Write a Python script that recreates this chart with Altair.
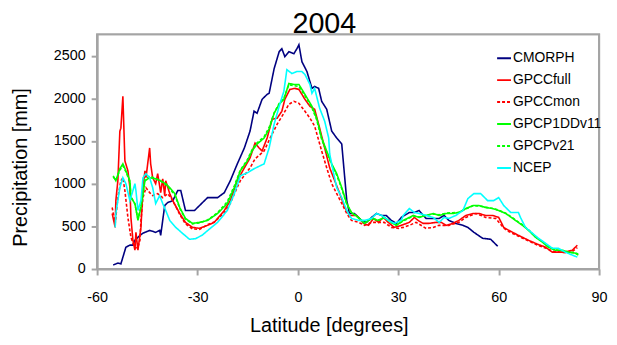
import altair as alt
import pandas as pd

series_names = ["CMORPH", "GPCCfull", "GPCCmon", "GPCP1DDv11", "GPCPv21", "NCEP"]
series_colors = ["#000080", "#FF0000", "#FF0000", "#00FF00", "#00FF00", "#00FFFF"]
series_dashes = [[1, 0], [1, 0], [3, 2], [1, 0], [3, 2], [1, 0]]

cmorph_lat = [-55.2, -53.8, -52.9, -51.4, -50.2, -49.3, -48.7, -47.2, -46.3, -44.3, -42.5, -41.3, -41.0, -39.8,
              -38.9, -37.4, -35.9, -35.0, -33.6, -32.4, -30.9, -29.4, -27, -24, -22, -20.2, -18.1, -16, -14.3,
              -13.1, -12.2, -10.7, -9.2, -8.6, -7.1, -5.6, -4.8, -3.9, -2.7, -1.2, -0.3, 0.3, 1.2, 2.7, 4.2, 5.0,
              6.2, 7.1, 8.6, 10.1, 11.6, 13.1, 14.6, 15.4, 16.9, 19, 20.5, 22, 23.5, 25, 26.4, 27.9, 29.4, 30.9,
              33.3, 34.8, 36.2, 38.3, 40.4, 42.2, 43.7, 45.1, 47.2, 49.3, 50.8, 52.6, 55.2, 57.6, 59.7]
cmorph_val = [47, 70, 60, 256, 280, 280, 337, 395, 420, 453, 430, 453, 395, 744,
              780, 800, 920, 920, 686, 686, 686, 744, 837, 837, 895, 1035, 1233, 1419, 1617,
              1850, 1826, 1989, 2047, 2059, 2349, 2547, 2582, 2489, 2547, 2524, 2582, 2628, 2430, 2314, 2117, 2140,
              2117, 1966, 1873, 1617, 1535, 1465, 802, 651, 651, 570, 547, 605, 651, 628, 628, 570, 535, 605,
              663, 663, 686, 593, 593, 593, 628, 570, 535, 512, 488, 430, 360, 349, 267]

gpccfull_lat = [-55.5, -54.6, -54.4, -53.8, -53.2, -52.9, -52.3, -51.7, -50.8, -50.2, -49.9, -49.3, -48.7, -48.4,
                -47.8, -46.9, -46.3, -45.7, -45.4, -44.3, -44.0, -43.4, -42.5, -41.9, -41.0, -40.4, -39.8, -39.5,
                -38.3, -37.4, -35.3, -33.6, -31.5, -29.4, -27, -25, -22, -20.2, -18.1, -16, -14.3, -12.8, -11.6,
                -10.7, -9.2, -7.7, -6.2, -4.8, -3.9, -2.4, -0.9, 0.3, 2.1, 3.6, 5.0, 6.5, 8.0, 9.5, 11.0, 12.5,
                14.0, 15.4, 17.5, 19.6, 21.1, 22.6, 24.1, 25.5, 27.0, 28.8, 30.9, 33.3, 34.8, 35.9, 37.4, 39.2,
                41.3, 42.8, 44.3, 46.3, 48.1, 50.2, 52.3, 54.1, 56.1, 58.2, 60.0, 61.5, 63.0, 65.9, 68.9, 71.6,
                74.0, 76.0, 77.8, 79.9, 82.0, 83.5]
gpccfull_val = [651, 488, 802, 1035, 1617, 1651, 2024, 1268, 1151, 954, 605, 337, 221, 430,
                221, 488, 954, 1151, 1070, 1419, 1233, 1070, 1000, 1117, 895, 1058, 861, 1035,
                884, 802, 651, 547, 488, 477, 512, 547, 686, 802, 1035, 1186, 1302, 1477, 1419,
                1384, 1535, 1756, 1768, 1849, 1989, 2105, 2117, 2105, 1989, 1907, 1873, 1651, 1419, 1186, 1035, 884,
                721, 628, 628, 535, 512, 593, 547, 605, 547, 488, 512, 547, 605, 570, 535, 535,
                547, 547, 512, 535, 570, 628, 651, 651, 628, 628, 605, 488, 454, 395, 337, 291,
                256, 198, 198, 198, 221, 279]

gpccmon_lat = [-55.5, -54.6, -53.8, -52.9, -52.3, -51.7, -50.8, -49.9, -48.7, -47.8, -47.2, -46.9, -46.3, -45.4,
               -44.3, -43.4, -41.9, -40.4, -38.9, -37.4, -35.3, -33.6, -31.5, -29.4, -27, -25, -22, -20.2, -18.1,
               -17.2, -14.3, -12.8, -10.1, -8.3, -6.2, -4.2, -2.7, -1.2, 0.3, 2.1, 3.6, 5.0, 7.1, 8.6, 10.1, 11.6,
               13.1, 14.6, 16.0, 18.1, 19.9, 22.0, 24.1, 25.8, 27.9, 30.0, 31.5, 33.3, 35.3, 38.3, 40.4, 42.2,
               45.1, 48.1, 50.2, 53.2, 56.1, 59.1, 61.5, 63.0, 65.9, 68.9, 71.6, 74.0, 76.0, 78, 80, 82, 83.5]
gpccmon_val = [721, 535, 837, 1035, 1070, 919, 605, 372, 244, 256, 337, 570, 837, 954,
               895, 861, 884, 837, 884, 802, 640, 530, 470, 465, 520, 550, 660, 770, 960,
               1035, 1186, 1291, 1384, 1535, 1698, 1826, 1931, 1966, 1942, 1849, 1768, 1675, 1384, 1186, 1000, 884,
               768, 651, 570, 547, 512, 547, 547, 547, 488, 477, 488, 512, 547, 477, 488, 512,
               512, 547, 605, 651, 605, 593, 480, 440, 385, 330, 280, 245, 210, 200, 190, 205, 250]

gpcp1dd_lat = [-55.2, -54.4, -53.2, -52.3, -51.4, -50.2, -49.9, -48.7, -47.8, -46.9, -45.7, -44.3, -42.5, -41,
               -39.5, -38.3, -36.8, -35.3, -33.6, -31.5, -29.4, -27, -24, -21.1, -19, -17.2, -15.1, -13.7, -12.2,
               -10.1, -8.6, -7.1, -5.6, -4.2, -2.7, -1.2, 0.3, 2.1, 4.2, 5.6, 7.1, 8.6, 10.1, 11.6, 13.1, 14.6,
               16, 18.1, 19.9, 22, 24.1, 25.8, 27.9, 29.4, 31.5, 34.5, 36.2, 38.3, 40.4, 42.2, 44.3, 46.3, 48.1,
               50.2, 52.3, 54.1, 56.1, 58.2, 60, 62.1, 64.2, 65, 67.1, 68.9, 71, 73.1, 74.8, 76.9, 79, 80.8,
               82.9, 83.8]
gpcp1dd_val = [1093, 1035, 1175, 1233, 1151, 1035, 837, 768, 570, 721, 1035, 1070, 1058, 1035,
               1000, 954, 884, 721, 593, 535, 547, 570, 651, 768, 954, 1151, 1268, 1384, 1465,
               1535, 1640, 1826, 1931, 1989, 2175, 2163, 2163, 2047, 1907, 1768, 1535, 1384, 1233, 1117, 954, 768,
               663, 605, 535, 593, 570, 605, 547, 512, 570, 628, 605, 628, 651, 628, 651, 651, 663,
               709, 744, 744, 721, 709, 686, 651, 593, 570, 512, 454, 372, 314, 256, 221, 221, 198,
               186, 163]

gpcpv21_lat = [-55.2, -54.4, -53.2, -52.3, -51.4, -50.2, -49.9, -48.7, -47.8, -46.9, -45.7, -44.3, -42.5, -41,
               -39.5, -38.3, -36.8, -35.3, -33.6, -31.5, -29.4, -27, -24, -21.1, -19, -17.2, -15.1, -13.7, -12.2,
               -10.1, -8.6, -7.1, -5.6, -4.2, -2.7, -1.2, 0.3, 2.1, 4.2, 5.6, 7.1, 8.6, 10.1, 11.6, 13.1, 14.6,
               16, 18.1, 19.9, 22, 24.1, 25.8, 27.9, 29.4, 31.5, 34.5, 36.2, 38.3, 40.4, 42.2, 44.3, 46.3, 48.1,
               50.2, 52.3, 54.1, 56.1, 58.2, 60, 62.1, 64.2, 65, 67.1, 68.9, 71, 73.1, 74.8, 76.9, 79, 80.8,
               82.9, 83.8]
gpcpv21_val = [1080, 1040, 1160, 1210, 1140, 1020, 850, 760, 590, 730, 1050, 1090, 1060, 1030,
               990, 940, 870, 710, 585, 530, 540, 575, 660, 790, 975, 1160, 1280, 1400, 1480,
               1550, 1660, 1830, 1940, 2000, 2160, 2150, 2140, 2030, 1890, 1750, 1520, 1370, 1220, 1100, 940, 760,
               660, 600, 540, 590, 575, 600, 545, 515, 565, 620, 610, 630, 645, 635, 655, 660, 665,
               705, 740, 740, 725, 710, 690, 655, 600, 575, 520, 460, 380, 320, 265, 225, 215, 200,
               190, 175]

ncep_lat = [-54.6, -54.4, -53.2, -52.3, -51.4, -50.2, -49.3, -48.7, -48.4, -47.8, -46.9, -46.3, -45.4, -44.3,
            -43.4, -42.5, -41.3, -40.4, -39.5, -38.3, -36.5, -34.5, -32.4, -30.6, -28.5, -27, -24, -21.1, -19,
            -17.2, -15.1, -13.1, -11.3, -10.1, -8.6, -7.1, -5.6, -4.2, -3.3, -1.8, -0.3, 1.2, 2.1, 3.6, 4.2, 5.0,
            6.5, 8.0, 9.2, 9.5, 10.7, 11.6, 13.1, 14.6, 16, 18.1, 19.9, 22, 23.5, 25, 27, 28.8, 30.9, 31.5, 33.3,
            34.8, 36.2, 38.3, 40.4, 42.2, 43.7, 45.1, 47.2, 49.3, 50.8, 52.6, 54.6, 56.7, 58.5, 60, 61.5, 63.6,
            65.9, 66.5, 68, 70.1, 71.9, 74, 76, 77.8, 79.9, 82, 83.5]
ncep_val = [488, 651, 954, 1070, 1000, 802, 919, 1000, 919, 686, 802, 1070, 1117, 1070,
            954, 768, 861, 768, 686, 570, 488, 419, 349, 355, 400, 450, 547, 686, 884,
            1093, 1128, 1175, 1210, 1233, 1419, 1698, 1907, 2082, 2337, 2291, 2314, 2314, 2280, 2163, 2059, 2117,
            1884, 1733, 1535, 1349, 1117, 954, 837, 686, 593, 570, 570, 593, 651, 628, 570, 535, 570, 628, 709,
            663, 651, 628, 605, 547, 605, 593, 628, 686, 826, 884, 884, 802, 802, 837, 744, 663,
            663, 605, 488, 419, 360, 302, 244, 244, 198, 163, 140]

x_domain = [-60, 90]
y_domain = [0, 2750]
x_ticks = [-60, -30, 0, 30, 60, 90]
y_ticks = [0, 500, 1000, 1500, 2000, 2500]

lats = [cmorph_lat, gpccfull_lat, gpccmon_lat, gpcp1dd_lat, gpcpv21_lat, ncep_lat]
vals = [cmorph_val, gpccfull_val, gpccmon_val, gpcp1dd_val, gpcpv21_val, ncep_val]

rows = []
for name, la, va in zip(series_names, lats, vals):
    for a, b in zip(la, va):
        rows.append({"series": name, "lat": a, "precip": b})
df = pd.DataFrame(rows)

frame_df = pd.DataFrame({"lat": [x_domain[0]], "lat2": [x_domain[1]],
                         "precip": [y_domain[0]], "precip2": [y_domain[1]]})

FONT = "Liberation Sans"
GREY = "#a4a4a4"

legend_opts = dict(title=None, orient="none", legendX=403, legendY=16,
                   symbolType="stroke", symbolSize=196, symbolStrokeWidth=2,
                   labelFontSize=14, labelFont=FONT, labelColor="black",
                   labelOffset=1, rowPadding=7.2, padding=0)

x_scale = alt.Scale(domain=x_domain, nice=False)
y_scale = alt.Scale(domain=y_domain, nice=False)
x_axis = alt.Axis(values=x_ticks, title="Latitude [degrees]", grid=False,
                  labelFlush=False, labelOverlap=False,
                  labelExpr="'' + datum.value",
                  titleX=234, titleY=63.5, titleBaseline="alphabetic")
y_axis = alt.Axis(values=y_ticks, title="Precipitation [mm]", grid=False,
                  labelFlush=False, labelOverlap=False,
                  labelExpr="'' + datum.value",
                  titleX=-71, titleY=134, titleBaseline="alphabetic", titleAngle=270)

lines = alt.Chart(df).mark_line(strokeWidth=1.6).encode(
    x=alt.X("lat:Q", scale=x_scale, axis=x_axis),
    y=alt.Y("precip:Q", scale=y_scale, axis=y_axis),
    color=alt.Color("series:N", scale=alt.Scale(domain=series_names, range=series_colors),
                    legend=alt.Legend(**legend_opts)),
    strokeDash=alt.StrokeDash("series:N", scale=alt.Scale(domain=series_names, range=series_dashes),
                              legend=alt.Legend(**legend_opts)),
)

frame = alt.Chart(frame_df).mark_rect(fill=None, stroke=GREY, strokeWidth=2).encode(
    x=alt.X("lat:Q", scale=x_scale, axis=x_axis),
    x2="lat2:Q",
    y=alt.Y("precip:Q", scale=y_scale, axis=y_axis),
    y2="precip2:Q",
)

chart = alt.layer(frame, lines).properties(
    width=607, height=329,
    title=alt.TitleParams("2004", fontSize=29, font=FONT, fontWeight="normal", anchor="middle",
                          frame="group", dx=-24, offset=-5.5, color="black"),
    autosize=alt.AutoSizeParams(type="fit", contains="padding"),
    padding={"left": 3, "top": 0, "right": 1, "bottom": -1},
).configure_view(
    stroke=GREY, strokeWidth=2
).configure_axis(
    domainColor=GREY, domainWidth=2, tickColor=GREY, tickWidth=2, tickSize=6,
    labelFont=FONT, labelFontSize=14.5, labelColor="black", labelPadding=6,
    titleFont=FONT, titleFontSize=20, titleFontWeight="normal", titleColor="black"
).configure_axisX(labelPadding=16)

chart.save("out.html", embed_options={"renderer": "svg", "actions": False})
